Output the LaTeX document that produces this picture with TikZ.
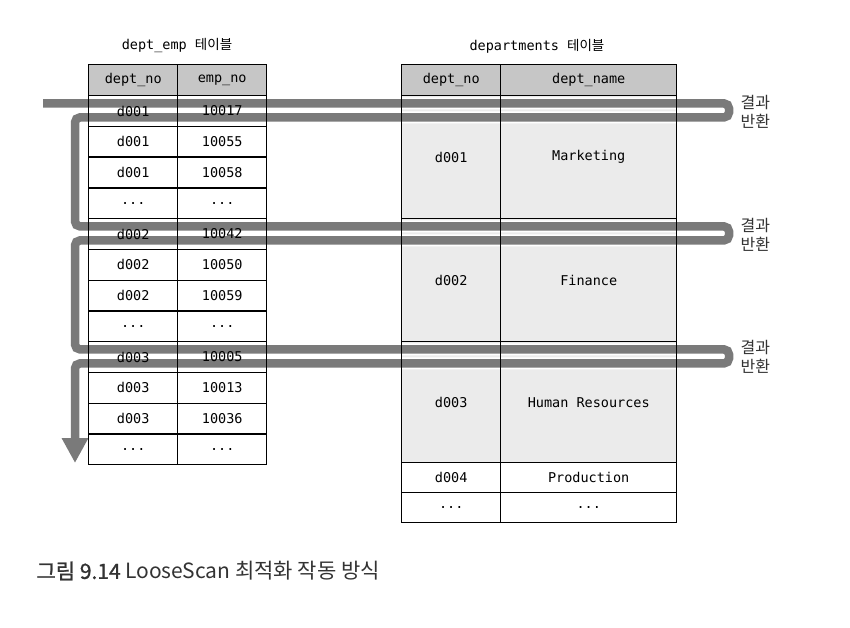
\documentclass[tikz,border=0pt]{standalone}
\usepackage{fontspec}
\setmonofont{DejaVu Sans Mono}
\newfontfamily\kr{Noto Sans CJK KR}
\newfontfamily\krmed[FakeBold=1.2]{Noto Sans CJK KR}
\usetikzlibrary{arrows.meta}
\pgfdeclarelayer{bg}
\pgfdeclarelayer{mid}
\pgfsetlayers{bg,mid,main}
\definecolor{headgray}{HTML}{C6C6C6}
\definecolor{groupgray}{HTML}{EBEBEB}
\definecolor{routegray}{HTML}{7A7A7A}
\definecolor{textgray}{HTML}{333333}
\newcommand{\tdots}{...}
\tikzset{
	cell/.style={draw, line width=1.4pt, inner sep=0pt, anchor=north west,
		font=\ttfamily\fontsize{13.5}{16}\selectfont},
	title/.style={font=\ttfamily\fontsize{13.5}{16}\selectfont},
	retlabel/.style={anchor=west, align=left, text=textgray,
		font=\kr\fontsize{16}{19}\selectfont},
	route/.style={draw=routegray, line width=8.5pt, rounded corners=5pt,
		-{Triangle[width=25pt,length=25pt]},
		preaction={draw=white, line width=12pt, -}}
}
\begin{document}
\begin{tikzpicture}[x=1pt,y=-1pt]
	\useasboundingbox (0,0) rectangle (850,628);
	
	% dept_emp table
	\node[title] (ltitle) at (177,46) {dept\_emp {\kr 테이블}};
	\node[cell, minimum width=89pt, minimum height=31pt] (lh1) at (88,64) {dept\_no};
	\node[cell, minimum width=89pt, minimum height=31pt] (lh2) at (177,64) {emp\_no};
	\foreach \no/\emp [count=\i] in {d001/10017, d001/10055, d001/10058, \tdots/\tdots,
		d002/10042, d002/10050, d002/10059, \tdots/\tdots,
		d003/10005, d003/10013, d003/10036, \tdots/\tdots}{
		\node[cell, minimum width=89pt, minimum height=30.75pt] (la\i) at (88,{95+30.75*(\i-1)}) {\no};
		\node[cell, minimum width=89pt, minimum height=30.75pt] (lb\i) at (177,{95+30.75*(\i-1)}) {\emp};
	}
	
	% departments table
	\node[title] (rtitle) at (537,46) {departments {\kr 테이블}};
	\node[cell, minimum width=99pt, minimum height=31pt] (rh1) at (401,64) {dept\_no};
	\node[cell, minimum width=176pt, minimum height=31pt] (rh2) at (500,64) {dept\_name};
	\node[cell, minimum width=99pt, minimum height=123pt] (ra1) at (401,95) {d001};
	\node[cell, minimum width=176pt, minimum height=123pt] (rb1) at (500,95) {Marketing};
	\node[cell, minimum width=99pt, minimum height=123pt] (ra2) at (401,218) {d002};
	\node[cell, minimum width=176pt, minimum height=123pt] (rb2) at (500,218) {Finance};
	\node[cell, minimum width=99pt, minimum height=121pt] (ra3) at (401,341) {d003};
	\node[cell, minimum width=176pt, minimum height=121pt] (rb3) at (500,341) {Human Resources};
	\node[cell, minimum width=99pt, minimum height=30pt] (ra4) at (401,462) {d004};
	\node[cell, minimum width=176pt, minimum height=30pt] (rb4) at (500,462) {Production};
	\node[cell, minimum width=99pt, minimum height=30pt] (ra5) at (401,492) {\tdots};
	\node[cell, minimum width=176pt, minimum height=30pt] (rb5) at (500,492) {\tdots};
	
	\begin{pgfonlayer}{bg}
		\fill[headgray] (lh1.north west) rectangle (lh2.south east);
		\fill[headgray] (rh1.north west) rectangle (rh2.south east);
		\fill[groupgray] (ra1.north west) rectangle (rb3.south east);
	\end{pgfonlayer}
	
	% scan route
	\coordinate (start) at (43,103.4);
	\coordinate (tip) at (75,463);
	\begin{pgfonlayer}{mid}
		\draw[route] (start) -- (729,103.4) -- (729,117.4) -- (75,117.4)
			-- (75,226.4) -- (729,226.4) -- (729,240.4) -- (75,240.4)
			-- (75,349.4) -- (729,349.4) -- (729,363.4) -- (75,363.4) -- (tip);
	\end{pgfonlayer}
	
	\node[retlabel] (ret1) at (737,112) {결과\\반환};
	\node[retlabel] (ret2) at (737,235) {결과\\반환};
	\node[retlabel] (ret3) at (737,357) {결과\\반환};
	
	% caption
	\node[anchor=west, text=textgray, font=\kr\fontsize{21}{24}\selectfont] (caption) at (33,571)
		{{\krmed 그림 9.14} LooseScan 최적화 작동 방식};
\end{tikzpicture}
\end{document}
